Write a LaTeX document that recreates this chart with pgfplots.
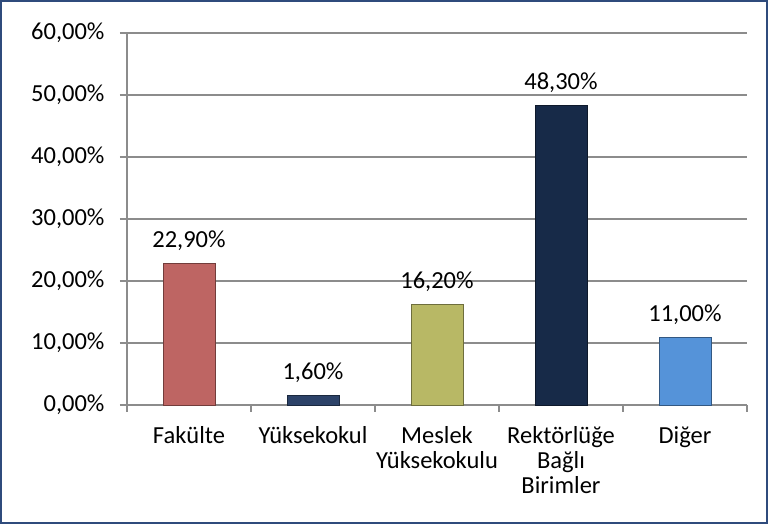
\documentclass[border=0pt]{standalone}
\usepackage{fontspec}
\setmainfont{Carlito}
\usepackage{pgfplots}
\pgfplotsset{compat=1.18}
\definecolor{frameblue}{HTML}{2F4B7C}
\definecolor{gridgray}{HTML}{8C8C8C}
\definecolor{cFak}{HTML}{BE6563}
\definecolor{cYuk}{HTML}{2C4268}
\definecolor{cMes}{HTML}{B8B865}
\definecolor{cRek}{HTML}{172A48}
\definecolor{cDig}{HTML}{5593D9}
\begin{document}
\begin{tikzpicture}[font=\fontsize{24.5}{25}\selectfont]
\useasboundingbox (0,0) rectangle (768pt,524pt);
\draw[frameblue, line width=2pt] (1pt,1pt) rectangle (767pt,523pt);
\begin{axis}[
  at={(127pt,119pt)}, anchor=south west,
  scale only axis, width=620pt, height=372pt,
  xmin=-0.5, xmax=4.5, ymin=0, ymax=60,
  /pgf/number format/assume math mode=true,
  axis x line*=bottom, axis y line*=left,
  axis line style={gridgray, line width=1.2pt},
  ytick={0,10,...,60},
  yticklabel={\pgfmathprintnumber[fixed,fixed zerofill,precision=2,use comma]{\tick}\%},
  ymajorgrids, major grid style={gridgray, line width=1.2pt},
  xtick={0,1,2,3,4},
  xticklabels={Fakülte, Yüksekokul, {Meslek\\Yüksekokulu}, {Rektörlüğe\\Bağlı\\Birimler}, Diğer},
  xticklabel style={align=center, anchor=north, yshift=-11pt},
  minor xtick={-0.5,0.5,...,4.5},
  tick align=outside,
  major tick length=7pt, minor tick length=7pt,
  x tick style={draw=none},
  minor x tick style={draw=gridgray, line width=1.2pt},
  y tick style={gridgray, line width=1.2pt},
  yticklabel style={xshift=-12pt},
  ybar, bar width=52pt, bar shift=0pt,
  nodes near coords={\pgfmathprintnumber[fixed,fixed zerofill,precision=2,use comma]{\pgfplotspointmeta}\%},
  every node near coord/.append style={anchor=south, yshift=9pt, black},
  clip=false,
]
\addplot[fill=cFak, draw=cFak!60!black] coordinates {(0,22.9)};
\addplot[fill=cYuk, draw=cYuk!60!black] coordinates {(1,1.6)};
\addplot[fill=cMes, draw=cMes!60!black] coordinates {(2,16.2)};
\addplot[fill=cRek, draw=cRek!60!black] coordinates {(3,48.3)};
\addplot[fill=cDig, draw=cDig!60!black] coordinates {(4,11.0)};
\end{axis}
\end{tikzpicture}
\end{document}
